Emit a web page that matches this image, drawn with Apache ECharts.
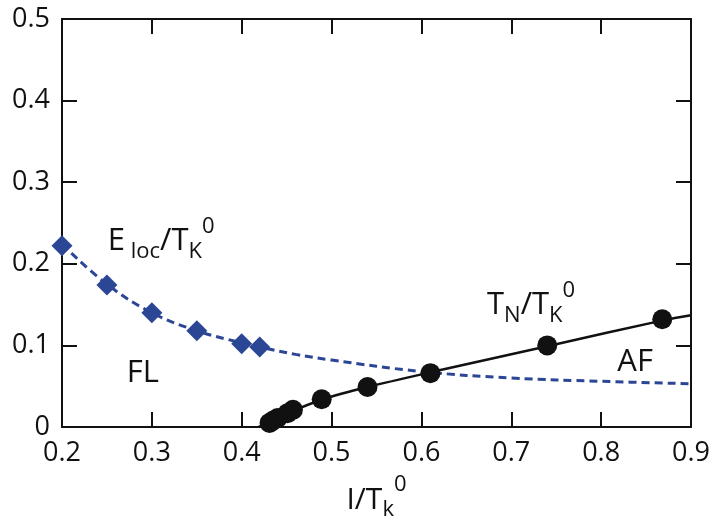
<!DOCTYPE html>
<html>
<head>
<meta charset="utf-8">
<script src="https://cdn.jsdelivr.net/npm/echarts@6/dist/echarts.min.js"></script>
<style>
  html, body { margin: 0; padding: 0; background: #fff; }
  #main { width: 713px; height: 526px; }
</style>
</head>
<body>
<div id="main"></div>
<script>
const elocPoints = [
  [0.2, 0.222], [0.25, 0.174], [0.3, 0.14], [0.35, 0.118], [0.4, 0.102], [0.42, 0.098]
];
const tnPoints = [
  [0.431, 0.005], [0.435, 0.008], [0.44, 0.011], [0.451, 0.017], [0.457, 0.021],
  [0.489, 0.034], [0.54, 0.049], [0.61, 0.066], [0.74, 0.1], [0.868, 0.132]
];

// Fitted curves drawn through the data
const elocCurve = [
  [0.2, 0.224], [0.25, 0.175], [0.3, 0.14], [0.35, 0.118], [0.4, 0.103], [0.42, 0.098],
  [0.46, 0.089], [0.5, 0.082], [0.6, 0.068], [0.7, 0.06], [0.8, 0.056], [0.9, 0.053]
];
const tnCurve = [
  [0.419, 0], [0.44, 0.011], [0.46, 0.021], [0.49, 0.034], [0.54, 0.049],
  [0.61, 0.067], [0.74, 0.099], [0.87, 0.131], [0.9, 0.137]
];

// Text labels placed in data coordinates
const notes = [
  { value: [0.251, 0.233], text: '{m|E}{s| loc}{m|/T}{s|K}{p|0}' },
  { value: [0.272, 0.072], text: '{m|FL}' },
  { value: [0.673, 0.155], text: '{m|T}{s|N}{m|/T}{s|K}{p|0}' },
  { value: [0.818, 0.085], text: '{m|AF}' }
];

const xTicks = { min: 0.2, max: 0.9, interval: 0.1 };
const yTicks = { min: 0, max: 0.5, interval: 0.1 };

const blue = '#2c4696';
const ink = '#111';
const font = 'Open Sans';

const richText = {
  m: { fontSize: 31, fontFamily: font, color: ink, lineHeight: 40, verticalAlign: 'bottom' },
  s: { fontSize: 22, fontFamily: font, color: ink, lineHeight: 40, verticalAlign: 'bottom', padding: [0, 0, -6, 0] },
  p: { fontSize: 22, fontFamily: font, color: ink, lineHeight: 40, verticalAlign: 'top', padding: [-1, 0, 0, 0] }
};

const boxAxis = (extra) => ({
  type: 'value',
  axisLine: { show: true, onZero: false, lineStyle: { color: ink, width: 2 } },
  axisTick: { show: true, inside: true, length: 15, lineStyle: { color: ink, width: 2 } },
  splitLine: { show: false },
  ...extra
});

const option = {
  animation: false,
  grid: { left: 62, right: 22, top: 19, bottom: 99, outerBoundsMode: 'none' },
  xAxis: [
    boxAxis({
      ...xTicks,
      position: 'bottom',
      axisLabel: {
        fontSize: 27, fontFamily: font, color: ink, margin: 13,
        formatter: (v) => v.toFixed(1)
      },
      name: '{m|I/T}{s|k}{p|0}',
      nameLocation: 'middle',
      nameGap: 48,
      nameTextStyle: {
        rich: {
          m: { ...richText.m, fontSize: 30 },
          s: richText.s,
          p: richText.p
        }
      }
    }),
    boxAxis({ ...xTicks, position: 'top', axisLabel: { show: false } })
  ],
  yAxis: [
    boxAxis({
      ...yTicks,
      position: 'left',
      axisLabel: {
        fontSize: 27, fontFamily: font, color: ink, margin: 12,
        formatter: (v) => (v === 0 ? '0' : v.toFixed(1))
      }
    }),
    boxAxis({ ...yTicks, position: 'right', axisLabel: { show: false } })
  ],
  series: [
    {
      type: 'line',
      data: elocCurve,
      smooth: 0.4,
      showSymbol: false,
      lineStyle: { color: blue, width: 3, type: [8, 5] },
      z: 2
    },
    {
      type: 'line',
      data: tnCurve,
      smooth: 0.3,
      showSymbol: false,
      lineStyle: { color: ink, width: 2.5 },
      z: 2
    },
    {
      type: 'scatter',
      data: elocPoints,
      symbol: 'diamond',
      symbolSize: 21,
      itemStyle: { color: blue, opacity: 1 },
      z: 3
    },
    {
      type: 'scatter',
      data: tnPoints,
      symbol: 'circle',
      symbolSize: 20,
      itemStyle: { color: ink, opacity: 1 },
      z: 3
    },
    {
      type: 'scatter',
      symbolSize: 0,
      silent: true,
      itemStyle: { opacity: 1 },
      data: notes.map((n) => ({
        value: n.value,
        label: {
          show: true,
          position: 'right',
          distance: 0,
          formatter: n.text,
          rich: richText
        }
      })),
      z: 4
    }
  ]
};

const chart = echarts.init(document.getElementById('main'));
chart.setOption(option);
</script>
</body>
</html>
